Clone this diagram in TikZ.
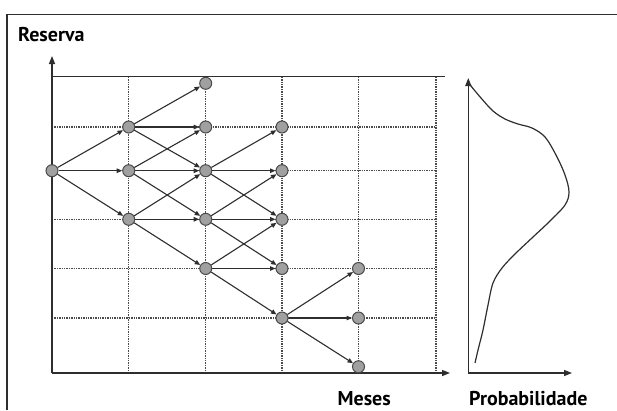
\documentclass[tikz,border=0pt]{standalone}
\usepackage{fontspec}
\setsansfont{PT Sans}
\usetikzlibrary{arrows.meta}
\definecolor{linec}{HTML}{2E2E2E}
\definecolor{gridc}{HTML}{4A4A4A}
\definecolor{nodefill}{HTML}{A0A0A0}
\definecolor{nodeedge}{HTML}{4A4A4A}
\begin{document}
\begin{tikzpicture}[x=1pt,y=-1pt,
  state/.style={circle,draw=nodeedge,fill=nodefill,line width=1pt,minimum size=12pt,inner sep=0pt},
  edge/.style={draw=linec,line width=1.1pt,-{Triangle[length=5.5pt,width=4.5pt]}},
  gridline/.style={draw=gridc,line width=1.1pt,dash pattern=on 1.4pt off 1pt},
  axis/.style={draw=linec,line width=1.4pt,-{Triangle[length=8pt,width=6pt]}},
  lab/.style={font=\sffamily\bfseries\fontsize{20}{24}\selectfont,text=black,inner sep=0pt}]
\useasboundingbox (0,0) rectangle (617,410);
% frame
\draw[linec,line width=1.6pt] (7,410) -- (7,14.5) -- (617,14.5);
% labels
\node[lab,anchor=base west] (reserva) at (18,41) {Reserva};
\node[lab,anchor=base east] (meses) at (391,405) {Meses};
\node[lab,anchor=base west] (prob) at (469,405) {Probabilidade};
% grid
\foreach \y in {127,170.7,219.3,268.5,318}
  \draw[gridline] (52,\y) -- (436,\y);
\foreach \x in {128.7,205.7,282,358.5,436}
  \draw[gridline] (\x,76.7) -- (\x,373);
\draw[linec,line width=1.4pt] (52,76.7) -- (445,76.7);
% axes
\coordinate (o) at (52,373);
\coordinate (ytop) at (52,56);
\coordinate (xend) at (450,373);
\draw[axis] (o) -- (ytop);
\draw[axis] (52,373) -- (xend);
\coordinate (po) at (468.3,373);
\coordinate (ptop) at (468.3,78);
\coordinate (pend) at (572,373);
\draw[axis] (po) -- (ptop);
\draw[axis] (468.3,373) -- (pend);
% probability curve
\draw[linec,line width=1.2pt] plot[smooth,tension=0.55] coordinates {
 (469.3,84) (481,98) (493,111) (505,119) (518,124) (532,128) (545,137)
 (556,155) (565,175) (569,192) (565,205) (550,221) (533,237) (515,254)
 (502,268) (493,283) (488,305) (483,330) (478,350) (475,363)};
% nodes
\node[state] (A) at (52,170.7) {};
\node[state] (B1) at (128.7,127) {};
\node[state] (B2) at (128.7,170.7) {};
\node[state] (B3) at (128.7,219.3) {};
\node[state] (C0) at (205.7,83.3) {};
\node[state] (C1) at (205.7,127) {};
\node[state] (C2) at (205.7,170.7) {};
\node[state] (C3) at (205.7,219.3) {};
\node[state] (C4) at (205.7,268.5) {};
\node[state] (D1) at (282,127) {};
\node[state] (D2) at (282,170.7) {};
\node[state] (D3) at (282,219.3) {};
\node[state] (D4) at (282,268.5) {};
\node[state] (D5) at (282,318) {};
\node[state] (E4) at (358.5,268.5) {};
\node[state] (E5) at (358.5,318) {};
\node[state] (E6) at (358.5,366.7) {};
% edges
\foreach \a/\b in {A/B1,A/B2,A/B3,B1/C0,B1/C1,B1/C2,B2/C1,B2/C2,B2/C3,B3/C2,B3/C3,B3/C4,
  C2/D1,C2/D2,C2/D3,C3/D2,C3/D3,C3/D4,C4/D3,C4/D4,C4/D5,D5/E4,D5/E5,D5/E6}
  \draw[edge] (\a) -- (\b);
\end{tikzpicture}
\end{document}
